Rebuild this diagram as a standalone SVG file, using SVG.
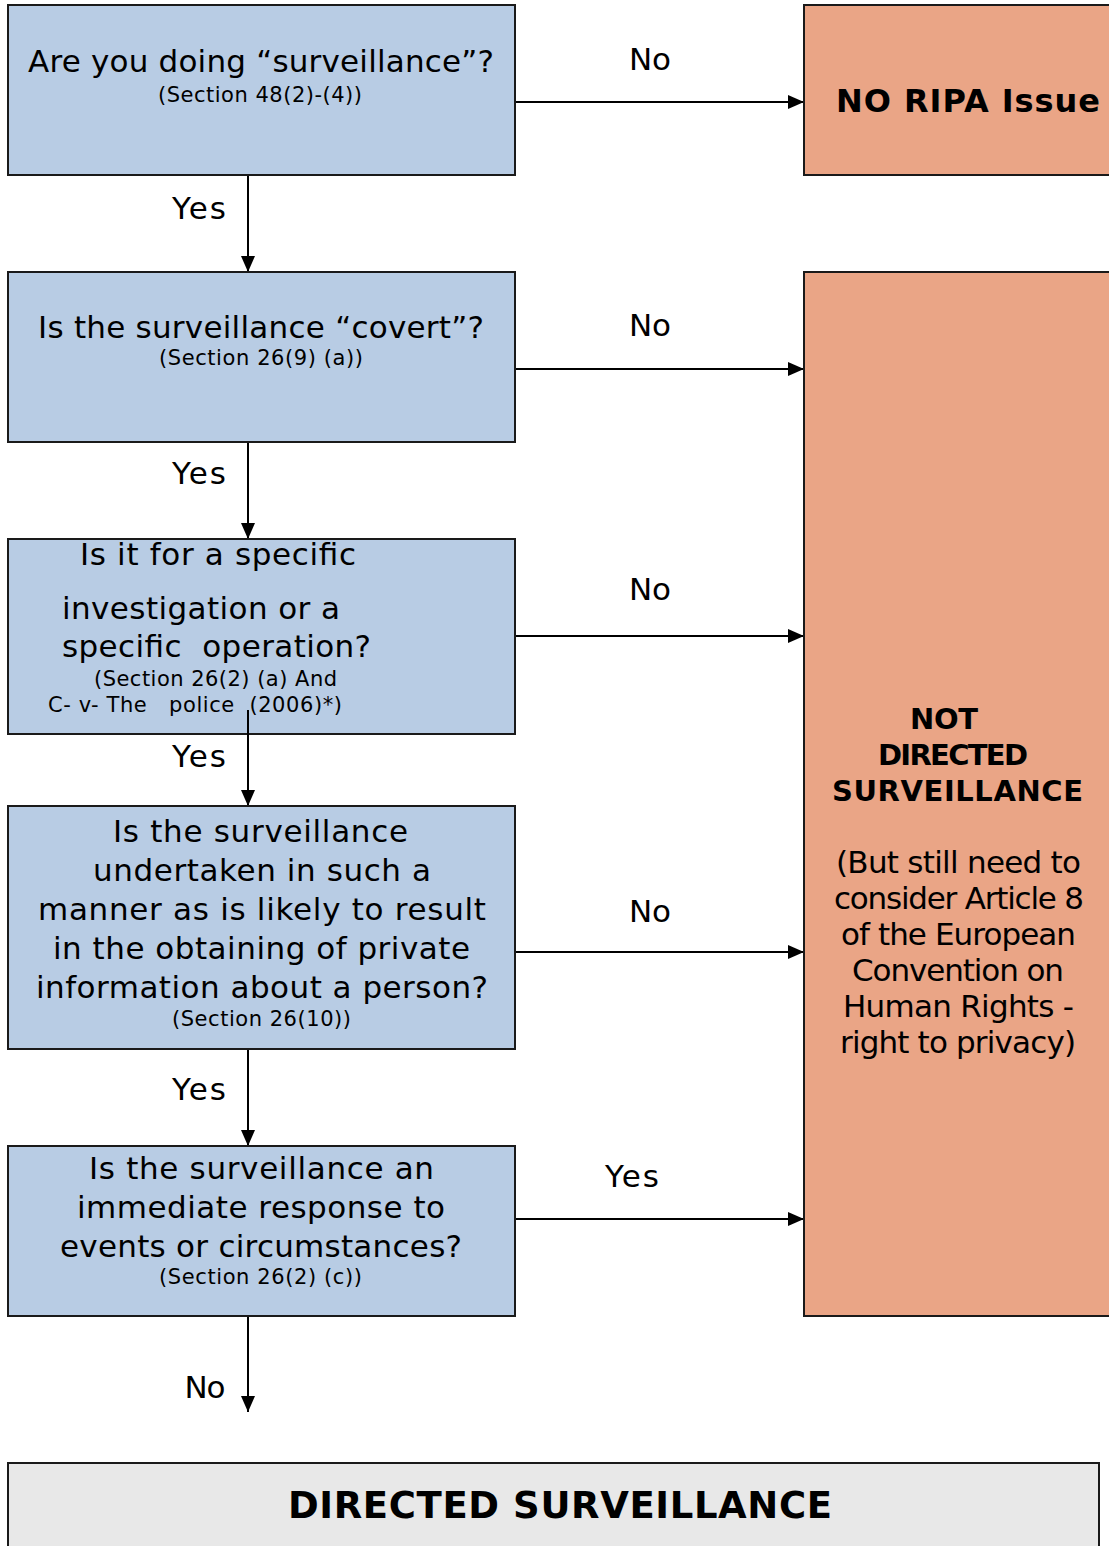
<svg xmlns="http://www.w3.org/2000/svg" width="1109" height="1546" viewBox="0 0 1109 1546">
<defs>
<style>
.q{fill:#B8CCE4;stroke:#1a1a1a;stroke-width:2}
.o{fill:#EAA586;stroke:#1a1a1a;stroke-width:2}
.g{fill:#E8E8E8;stroke:#1a1a1a;stroke-width:2}
text{font-family:"DejaVu Sans",Verdana,sans-serif;fill:#000}
.m{font-size:31px;text-anchor:middle}
.s{font-size:21px;text-anchor:middle}
.ms{font-size:31px}
.ss{font-size:21px}
.b{font-size:29px;font-weight:bold;text-anchor:middle}
.l{font-size:31px;text-anchor:middle}
.c{stroke:#000;stroke-width:2;fill:none;marker-end:url(#ah)}
</style>
<marker id="ah" markerUnits="userSpaceOnUse" markerWidth="16" markerHeight="14" refX="16" refY="7" orient="auto">
<path d="M0,0 L16,7 L0,14 Z" fill="#000"/>
</marker>
</defs>
<g id="connectors">
<line class="c" x1="515" y1="102" x2="804" y2="102"/>
<line class="c" x1="515" y1="369" x2="804" y2="369"/>
<line class="c" x1="515" y1="636" x2="804" y2="636"/>
<line class="c" x1="515" y1="952" x2="804" y2="952"/>
<line class="c" x1="515" y1="1219" x2="804" y2="1219"/>
<line class="c" x1="248" y1="175" x2="248" y2="272"/>
<line class="c" x1="248" y1="442" x2="248" y2="539"/>
<line class="c" x1="248" y1="1049" x2="248" y2="1146"/>
<line class="c" x1="248" y1="1316" x2="248" y2="1412"/>
<text class="l" x="650" y="70" textLength="42">No</text>
<text class="l" x="650" y="336" textLength="42">No</text>
<text class="l" x="650" y="600" textLength="42">No</text>
<text class="l" x="650" y="922" textLength="42">No</text>
<text class="l" x="632" y="1187" textLength="54">Yes</text>
<text class="l" x="199" y="219" textLength="54">Yes</text>
<text class="l" x="199" y="484" textLength="54">Yes</text>
<text class="l" x="199" y="767" textLength="54">Yes</text>
<text class="l" x="199" y="1100" textLength="54">Yes</text>
<text class="l" x="205" y="1398" textLength="41">No</text>
</g>
<g id="q1">
<rect class="q" x="8" y="5" width="507" height="170"/>
<text class="m" x="261" y="72" textLength="466">Are you doing “surveillance”?</text>
<text class="s" x="260" y="102" textLength="204">(Section 48(2)-(4))</text>
</g>
<g id="q2">
<rect class="q" x="8" y="272" width="507" height="170"/>
<text class="m" x="261" y="338" textLength="446">Is the surveillance “covert”?</text>
<text class="s" x="261" y="365" textLength="204">(Section 26(9) (a))</text>
</g>
<g id="q3">
<rect class="q" x="8" y="539" width="507" height="195"/>
<text class="ms" x="80" y="565" textLength="276">Is it for a specific</text>
<text class="ms" x="62" y="619" textLength="278">investigation or a</text>
<text class="ms" x="62" y="657" xml:space="preserve" textLength="309">specific  operation?</text>
<text class="ss" x="94" y="686" textLength="243">(Section 26(2) (a) And</text>
<text class="ss" x="48" y="712" xml:space="preserve" textLength="294">C- v- The   police  (2006)*)</text>
</g>
<line class="c" x1="248" y1="710" x2="248" y2="806"/>
<g id="q4">
<rect class="q" x="8" y="806" width="507" height="243"/>
<text class="m" x="260.5" y="842" textLength="295">Is the surveillance</text>
<text class="m" x="262" y="881" textLength="338">undertaken in such a</text>
<text class="m" x="262" y="920" textLength="448">manner as is likely to result</text>
<text class="m" x="261.5" y="959" textLength="417">in the obtaining of private</text>
<text class="m" x="262" y="998" textLength="452">information about a person?</text>
<text class="s" x="261.5" y="1026" textLength="179">(Section 26(10))</text>
</g>
<g id="q5">
<rect class="q" x="8" y="1146" width="507" height="170"/>
<text class="m" x="261.5" y="1179" textLength="345">Is the surveillance an</text>
<text class="m" x="261" y="1218" textLength="368">immediate response to</text>
<text class="m" x="261" y="1257" textLength="402">events or circumstances?</text>
<text class="s" x="260.5" y="1284" textLength="203">(Section 26(2) (c))</text>
</g>
<g id="noripa">
<rect class="o" x="804" y="5" width="315" height="170"/>
<text class="b" x="968" y="112" style="font-size:32px" textLength="264">NO RIPA Issue</text>
</g>
<g id="notdirected">
<rect class="o" x="804" y="272" width="315" height="1044"/>
<text class="b" x="944" y="729" textLength="68">NOT</text>
<text class="b" x="953" y="765" textLength="150">DIRECTED</text>
<text class="b" x="957.5" y="801" textLength="251">SURVEILLANCE</text>
<text class="m" x="958.5" y="873" textLength="245">(But still need to</text>
<text class="m" x="959" y="909" textLength="250">consider Article 8</text>
<text class="m" x="958.5" y="945" textLength="235">of the European</text>
<text class="m" x="958" y="981" textLength="212">Convention on</text>
<text class="m" x="958.5" y="1017" textLength="231">Human Rights -</text>
<text class="m" x="958" y="1053" textLength="236">right to privacy)</text>
</g>
<g id="directed">
<rect class="g" x="8" y="1463" width="1091" height="100"/>
<text class="b" x="560" y="1518" style="font-size:37px" textLength="544">DIRECTED SURVEILLANCE</text>
</g>
</svg>
